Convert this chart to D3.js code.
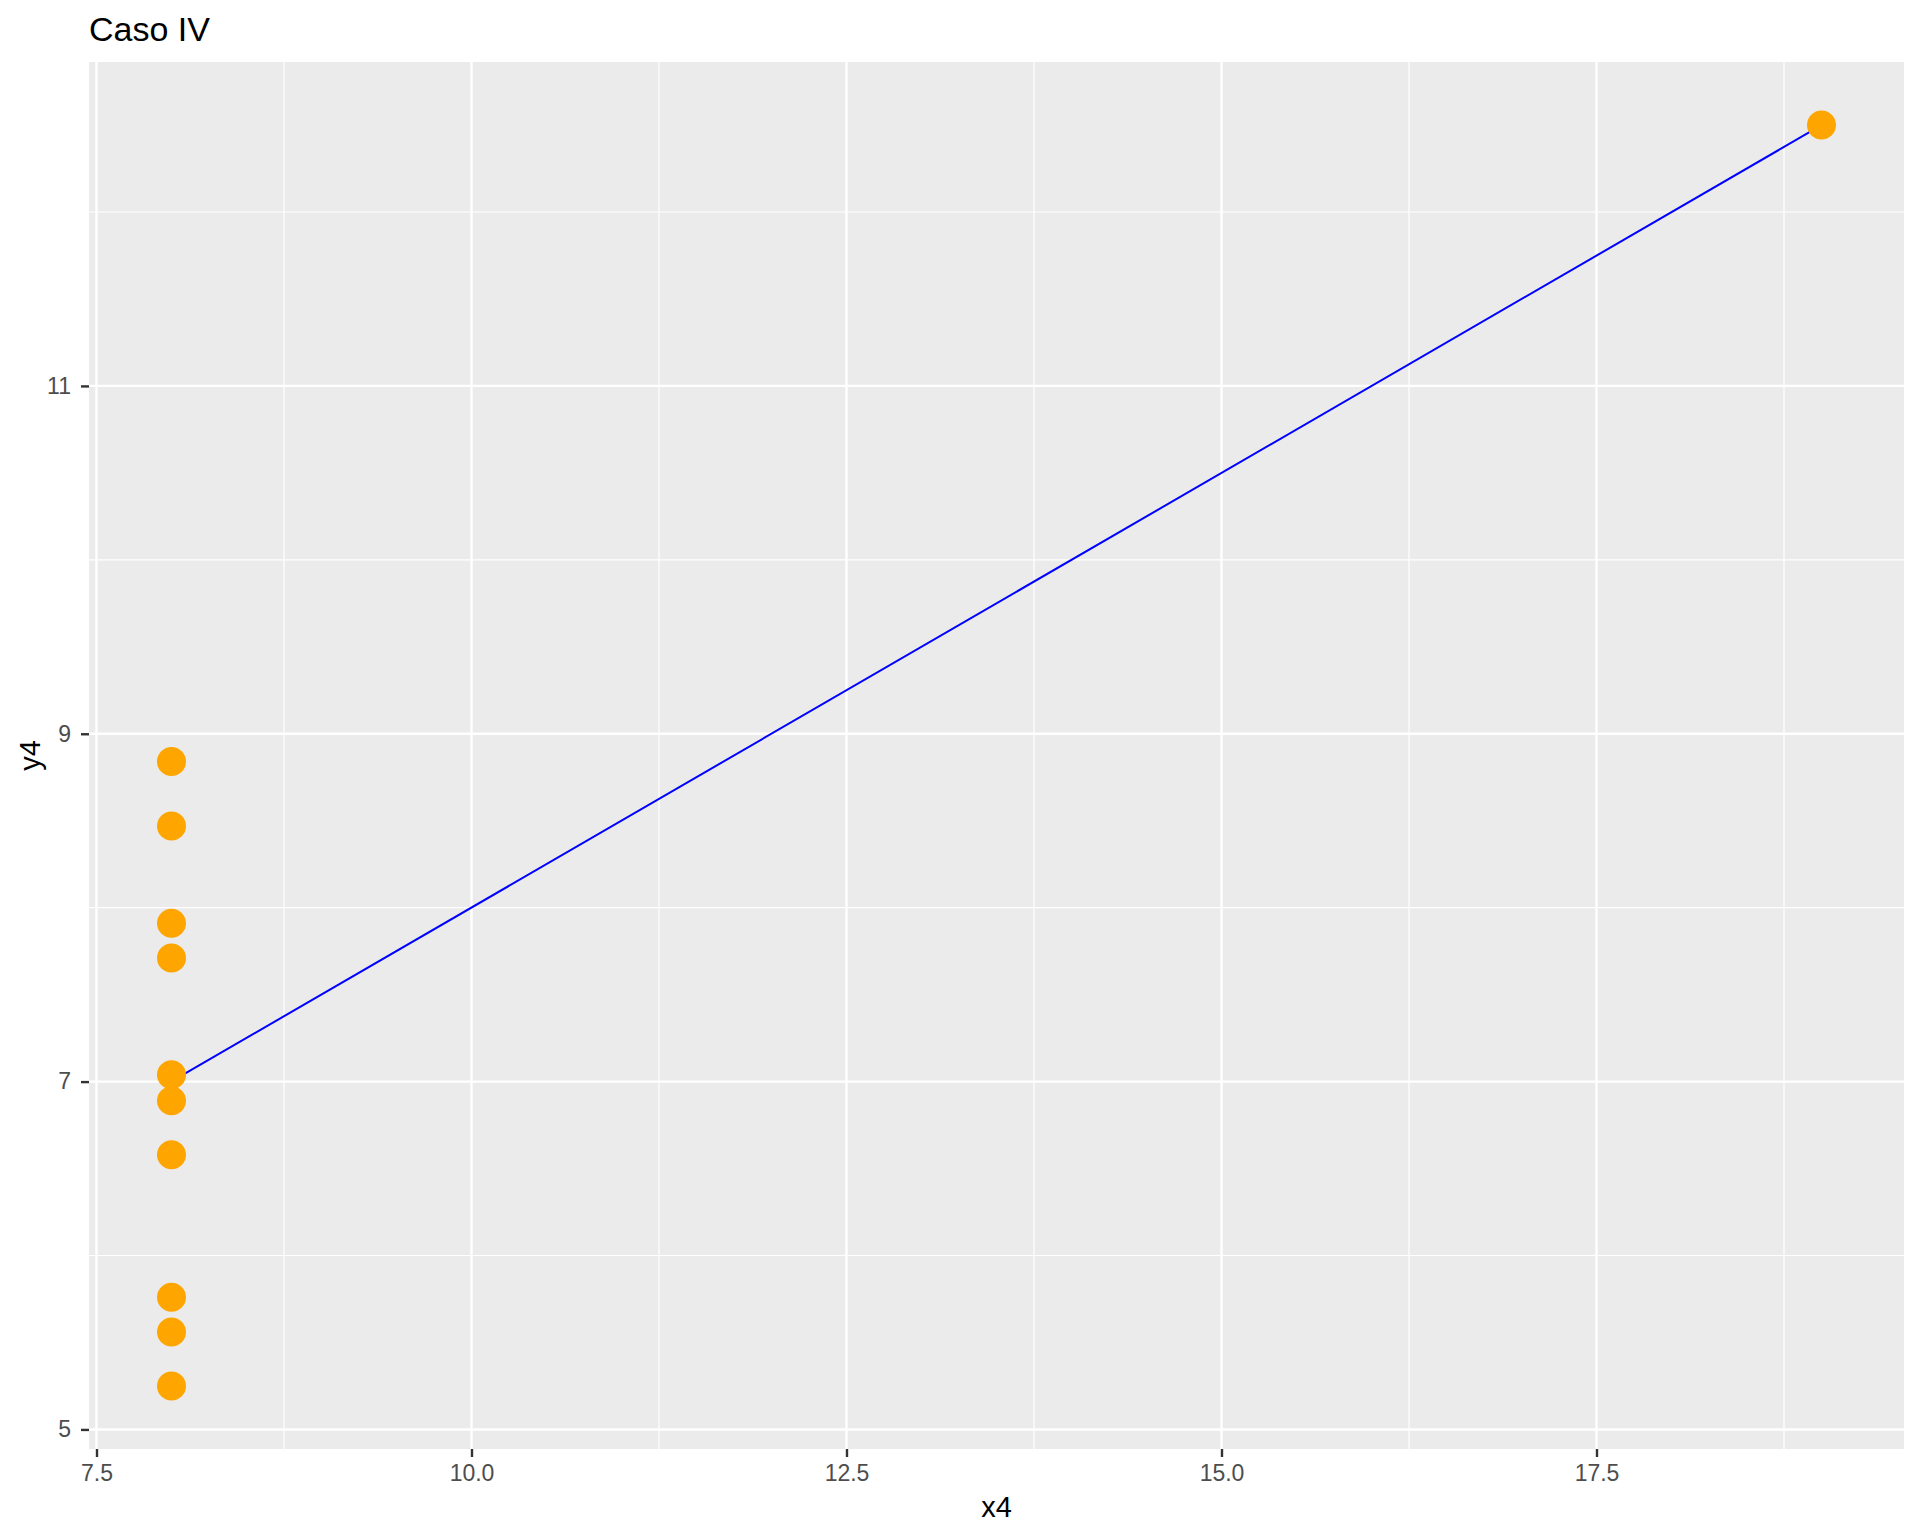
<!DOCTYPE html>
<html>
<head>
<meta charset="utf-8">
<script src="https://cdn.jsdelivr.net/npm/d3@7"></script>
<style>
  body { margin: 0; background: #fff; }
  text { font-family: "Liberation Sans", Arial, sans-serif; }
</style>
</head>
<body>
<div id="chart"></div>
<script>
// Data (Anscombe case IV)
var x4 = [8, 8, 8, 8, 8, 8, 8, 19, 8, 8, 8];
var y4 = [6.58, 5.76, 7.71, 8.84, 8.47, 7.04, 5.25, 12.50, 5.56, 7.91, 6.89];

// fitted line end points
var fitX = [8, 19];
var fitY = [7.001, 12.499];

var xTicks = [7.5, 10.0, 12.5, 15.0, 17.5];
var xMinor = [8.75, 11.25, 13.75, 16.25, 18.75];
var yTicks = [5, 7, 9, 11];
var yMinor = [6, 8, 10, 12];

var svgWidth = 1920;
var svgHeight = 1536;

var margin = { top: 62, right: 16, bottom: 87, left: 89 };
var width = svgWidth - margin.left - margin.right;
var height = svgHeight - margin.top - margin.bottom;

var svg = d3.select("#chart")
  .append("svg")
  .attr("width", svgWidth)
  .attr("height", svgHeight);

var chartGroup = svg.append("g")
  .attr("transform", `translate(${margin.left}, ${margin.top})`);

// ggplot style 5% expansion
var xExt = d3.extent(x4), yExt = d3.extent(y4);
var xPad = (xExt[1] - xExt[0]) * 0.05;
var yPad = (yExt[1] - yExt[0]) * 0.05;

var xScale = d3.scaleLinear()
  .domain([xExt[0] - xPad, xExt[1] + xPad])
  .range([0, width]);

var yScale = d3.scaleLinear()
  .domain([yExt[0] - yPad, yExt[1] + yPad])
  .range([height, 0]);

// panel
chartGroup.append("rect")
  .attr("width", width)
  .attr("height", height)
  .attr("fill", "#EBEBEB");

// minor grid
chartGroup.selectAll(".xminor")
  .data(xMinor)
  .enter()
  .append("line")
  .attr("x1", d => xScale(d)).attr("x2", d => xScale(d))
  .attr("y1", 0).attr("y2", height)
  .attr("stroke", "#fff").attr("stroke-width", 1.2);

chartGroup.selectAll(".yminor")
  .data(yMinor)
  .enter()
  .append("line")
  .attr("y1", d => yScale(d)).attr("y2", d => yScale(d))
  .attr("x1", 0).attr("x2", width)
  .attr("stroke", "#fff").attr("stroke-width", 1.2);

// major grid
chartGroup.selectAll(".xmajor")
  .data(xTicks)
  .enter()
  .append("line")
  .attr("x1", d => xScale(d)).attr("x2", d => xScale(d))
  .attr("y1", 0).attr("y2", height)
  .attr("stroke", "#fff").attr("stroke-width", 2.4);

chartGroup.selectAll(".ymajor")
  .data(yTicks)
  .enter()
  .append("line")
  .attr("y1", d => yScale(d)).attr("y2", d => yScale(d))
  .attr("x1", 0).attr("x2", width)
  .attr("stroke", "#fff").attr("stroke-width", 2.4);

// axes
var bottomAxis = d3.axisBottom(xScale)
  .tickValues(xTicks)
  .tickFormat(d3.format(".1f"))
  .tickSize(8)
  .tickPadding(8);

var leftAxis = d3.axisLeft(yScale)
  .tickValues(yTicks)
  .tickFormat(d3.format("d"))
  .tickSize(8)
  .tickPadding(10);

var xAxisG = chartGroup.append("g")
  .attr("transform", `translate(0, ${height})`)
  .call(bottomAxis);

var yAxisG = chartGroup.append("g")
  .call(leftAxis);

[xAxisG, yAxisG].forEach(function(g) {
  g.select(".domain").remove();
  g.selectAll(".tick line").attr("stroke", "#333333").attr("stroke-width", 2.4);
  g.selectAll(".tick text")
    .attr("fill", "#4D4D4D")
    .style("font-size", "23px")
    .style("font-family", "'Liberation Sans', Arial, sans-serif");
});

// fitted line
var line = d3.line()
  .x(d => xScale(d[0]))
  .y(d => yScale(d[1]));

chartGroup.append("path")
  .datum(fitX.map((d, i) => [d, fitY[i]]))
  .attr("d", line)
  .attr("fill", "none")
  .attr("stroke", "#0000FF")
  .attr("stroke-width", 2);

// points
chartGroup.selectAll("circle")
  .data(x4.map((d, i) => [d, y4[i]]))
  .enter()
  .append("circle")
  .attr("cx", d => xScale(d[0]))
  .attr("cy", d => yScale(d[1]))
  .attr("r", 14.5)
  .attr("fill", "#FFA500");

// labels
svg.append("text")
  .attr("x", margin.left)
  .attr("y", 41)
  .style("font-size", "34px")
  .attr("fill", "#000")
  .text("Caso IV");

svg.append("text")
  .attr("x", margin.left + width / 2)
  .attr("y", 1517)
  .attr("text-anchor", "middle")
  .style("font-size", "29px")
  .attr("fill", "#000")
  .text("x4");

svg.append("text")
  .attr("transform", `translate(40, ${margin.top + height / 2}) rotate(-90)`)
  .attr("text-anchor", "middle")
  .style("font-size", "29px")
  .attr("fill", "#000")
  .text("y4");
</script>
</body>
</html>
